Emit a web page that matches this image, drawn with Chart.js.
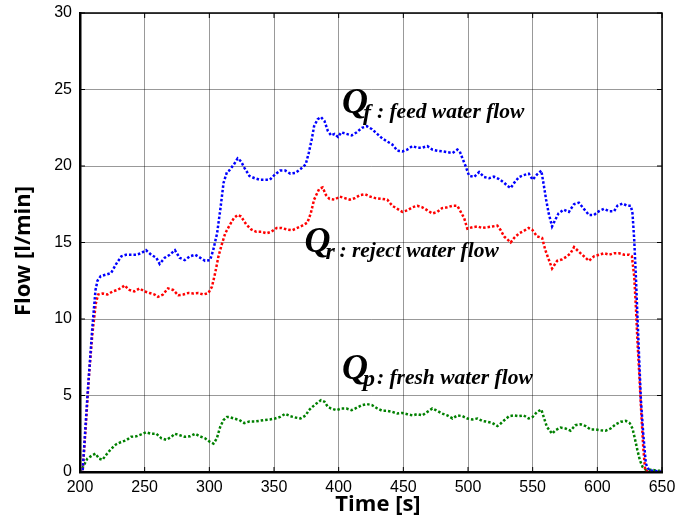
<!DOCTYPE html>
<html>
<head>
<meta charset="utf-8">
<title>Flow vs time</title>
<script src="https://cdn.jsdelivr.net/npm/chart.js@4.4.1/dist/chart.umd.min.js"></script>
<style>
    html, body { margin: 0; padding: 0; background: #fff; }
    .chart-box { width: 677px; height: 519px; position: relative; }
</style>
</head>
<body>
<div class="chart-box"><canvas id="flowChart"></canvas></div>
<script>
// Axis ticks
const xTicks = [200, 250, 300, 350, 400, 450, 500, 550, 600, 650];
const yTicks = [0, 5, 10, 15, 20, 25, 30];

// Q_f : feed water flow (blue)
const feedTime = [200, 202, 205.7, 209.6, 212, 213.5, 216, 220, 224, 228, 232, 235.6, 239.5, 243.4, 247.3, 251, 255, 259, 261.6, 265.5,
    269.4, 273.4, 277, 281, 285, 289, 293, 296.7, 300.6, 303, 306, 308.4, 311, 313.6, 315.3, 319, 321.9, 324.5, 327, 331,
    335, 339, 343, 346.8, 350.8, 354.7, 358.7, 362.6, 366.6, 370.5, 374.5, 377, 379.2, 381, 383.7, 386.3, 389, 391.6, 394.2, 396.8,
    399.5, 402, 406, 410, 414, 418, 421.8, 425.8, 429.8, 433.7, 437.6, 441.5, 445.4, 449.2, 453, 457, 460.8, 464.7, 468.6, 472.4,
    476.3, 480, 484, 488, 491.8, 493.6, 495.7, 498.2, 500.8, 504.7, 508.6, 512.4, 516.3, 520, 524, 528, 530.5, 533, 535.7, 539.5,
    543, 547, 550, 553.4, 556.7, 558.5, 560.4, 562.4, 565, 567.6, 570, 574, 578, 581.9, 585.7, 589.6, 593.5, 597.4, 601.3, 605.2,
    609, 613, 615.5, 619.4, 623.3, 625.9, 627.2, 628.5, 629.8, 631, 632.4, 633.7, 635.5, 637.5, 640, 645, 650];
const feedFlow = [0, 0, 4.9, 9.5, 11.9, 12.5, 12.8, 12.9, 13.0, 13.6, 14.1, 14.2, 14.2, 14.2, 14.3, 14.5, 14.2, 14.0, 13.6, 14.0,
    14.2, 14.5, 14.0, 13.85, 14.1, 14.2, 14.0, 13.8, 13.85, 14.5, 15.6, 17.1, 18.9, 19.6, 19.7, 20.1, 20.5, 20.3, 19.9, 19.35,
    19.2, 19.1, 19.1, 19.1, 19.45, 19.7, 19.7, 19.5, 19.55, 19.8, 20.1, 20.9, 21.75, 22.6, 23.05, 23.2, 22.95, 22.3, 22.0, 22.1,
    21.9, 22.2, 22.1, 22.0, 22.2, 22.5, 22.6, 22.4, 22.1, 21.8, 21.6, 21.4, 21.0, 20.95, 21.07, 21.3, 21.2, 21.2, 21.3, 21.07,
    21.0, 20.96, 20.9, 20.85, 21.07, 20.96, 20.5, 19.98, 19.37, 19.28, 19.6, 19.28, 19.2, 19.3, 19.15, 18.9, 18.7, 18.56, 18.9, 19.28,
    19.4, 19.5, 19.1, 19.45, 19.7, 18.8, 17.8, 16.9, 16.05, 16.5, 16.9, 17.15, 17.0, 17.5, 17.6, 17.2, 16.8, 16.8, 17.05, 17.2,
    17.05, 17.05, 17.4, 17.55, 17.4, 17.4, 16.9, 15.2, 12.8, 10.2, 7.3, 4.7, 2.5, 0.55, 0.1, 0.07, 0];

// Q_r : reject water flow (red)
const rejectTime = [200, 202, 204.4, 207, 209.6, 212.2, 214, 217.4, 221.3, 225.2, 229, 233, 234.3, 238.2, 242, 246, 250, 253.8, 257.7, 260.3,
    264.2, 268, 272, 276, 279.8, 283.7, 287.6, 291.5, 295.4, 299.3, 302, 304.5, 307, 309.7, 312.3, 315.3, 319, 321.9, 324.5, 328.4,
    332.4, 336.3, 340.3, 344.2, 348, 352, 356, 360, 364, 368, 371.8, 375.8, 378.4, 381, 384.9, 387.6, 390.2, 392.9, 396.8, 400.8,
    404.7, 408.6, 412.6, 416.5, 420.5, 424.4, 428.4, 433.7, 437.6, 441.5, 445.4, 449.2, 453, 457, 460.8, 464.7, 468.6, 472.4, 476.3, 480,
    484, 488, 491.8, 494.4, 497, 499.5, 503.4, 507.3, 511, 515, 519, 522.7, 525.3, 527.9, 530.5, 533, 535.7, 539.5, 543, 546.9,
    549.5, 553.4, 557.3, 559.8, 562.4, 565, 568.9, 572.8, 576.7, 579.3, 582, 585.7, 589.6, 593.5, 597.4, 601.3, 605.2, 609, 613, 616.8,
    620.7, 624.6, 626.7, 628.5, 629.8, 631, 632.4, 633.7, 635.5, 637, 640, 650];
const rejectFlow = [0, 0, 2.9, 6.4, 9.05, 11.0, 11.6, 11.67, 11.6, 11.8, 11.9, 12.1, 12.2, 11.9, 11.8, 12.0, 11.8, 11.7, 11.6, 11.45,
    11.6, 12.0, 11.9, 11.55, 11.6, 11.7, 11.67, 11.7, 11.6, 11.7, 12.1, 13.0, 14.07, 14.9, 15.6, 16.07, 16.6, 16.8, 16.7, 16.2,
    15.85, 15.7, 15.7, 15.6, 15.7, 15.95, 15.95, 15.85, 15.8, 15.95, 16.1, 16.3, 16.9, 17.8, 18.5, 18.6, 18.1, 17.85, 17.8, 18.0,
    17.9, 17.8, 17.9, 18.1, 18.15, 18.0, 17.9, 17.85, 17.8, 17.4, 17.2, 17.0, 17.1, 17.3, 17.4, 17.3, 17.1, 16.9, 17.0, 17.25,
    17.3, 17.4, 17.4, 17.0, 16.6, 15.9, 16.0, 16.05, 15.95, 16.0, 16.05, 16.1, 15.8, 15.4, 15.2, 15.0, 15.3, 15.6, 15.75, 15.95,
    15.85, 15.4, 15.3, 14.5, 13.9, 13.3, 13.8, 13.9, 14.1, 14.3, 14.7, 14.4, 14.1, 13.8, 14.1, 14.2, 14.3, 14.2, 14.3, 14.3,
    14.2, 14.2, 14.1, 12.8, 10.8, 8.6, 6.45, 4.3, 1.6, 0.1, 0, 0];

// Q_p : fresh water flow (green)
const freshTime = [200, 200.5, 203, 205.7, 209.6, 212, 214.8, 217.4, 220, 224, 227.8, 231.7, 235.6, 239.5, 243.4, 247.3, 251, 255, 259, 263,
    266.8, 270.7, 273.3, 277.2, 281, 285, 289, 292.8, 296.7, 300.6, 303.2, 305.8, 308.4, 311, 313.6, 315.3, 319, 323.2, 327, 331,
    335, 339, 343, 346.8, 350.8, 354.7, 358.7, 362.6, 366.6, 370.5, 374.5, 377, 379.7, 382.3, 386.3, 389, 391.6, 394.2, 398.2, 402,
    406, 410, 414, 418, 421.8, 425.8, 429.9, 433.7, 437.6, 441.5, 445.4, 449.2, 453, 457, 460.8, 464.7, 468.6, 472.4, 476.3, 480,
    484, 488, 491.8, 495.7, 499.5, 503.4, 507.3, 511.1, 515, 518.9, 522.8, 525.3, 528, 531.8, 535.7, 539.5, 543, 546.9, 550, 553.4,
    556.7, 558.5, 561, 565, 567.6, 571.5, 575.4, 579.3, 583, 587, 591, 594.8, 598.7, 602.6, 606.5, 610.3, 614.2, 618, 622, 625,
    627.2, 629.3, 631, 632.9, 635, 637.5, 641.4, 645.3, 649.2];
const freshFlow = [0, 0, 0.44, 0.87, 1.1, 1.2, 0.87, 0.8, 1.1, 1.5, 1.8, 1.96, 2.07, 2.3, 2.33, 2.46, 2.6, 2.5, 2.5, 2.2,
    2.1, 2.3, 2.5, 2.4, 2.3, 2.33, 2.5, 2.33, 2.2, 1.96, 1.85, 2.2, 2.95, 3.4, 3.6, 3.6, 3.5, 3.4, 3.2, 3.3,
    3.3, 3.35, 3.4, 3.43, 3.5, 3.6, 3.8, 3.65, 3.56, 3.5, 3.7, 4.04, 4.26, 4.44, 4.7, 4.6, 4.26, 4.15, 4.04, 4.15,
    4.15, 4.04, 4.2, 4.37, 4.44, 4.37, 4.15, 4.0, 4.0, 3.93, 3.82, 3.86, 3.78, 3.7, 3.78, 3.7, 3.93, 4.15, 4.0, 3.82,
    3.7, 3.5, 3.7, 3.65, 3.5, 3.43, 3.5, 3.34, 3.28, 3.2, 3.0, 3.17, 3.38, 3.65, 3.7, 3.65, 3.7, 3.5, 3.6, 3.93,
    4.08, 3.6, 2.95, 2.5, 2.73, 2.9, 2.84, 2.7, 3.06, 3.12, 3.0, 2.78, 2.78, 2.73, 2.7, 2.84, 3.12, 3.28, 3.34, 3.2,
    2.84, 2.08, 1.42, 0.77, 0.33, 0.15, 0.15, 0.1, 0.07];

// Curve labels (anchor of the big Q, in data units)
const curveLabels = [
    { sub: 'f', text: ': feed water flow', t: 402.5, v: 23.45 },
    { sub: 'r', text: ': reject water flow', t: 373.5, v: 14.38 },
    { sub: 'p', text: ': fresh water flow', t: 402.5, v: 6.1 }
];

function toPoints(times, values) {
    return times.map((t, i) => ({ x: t, y: values[i] }));
}

function dottedSeries(label, times, values, color) {
    return {
        label: label,
        data: toPoints(times, values),
        borderColor: color,
        backgroundColor: color,
        borderWidth: 2.5,
        borderDash: [2.5, 2],
        borderCapStyle: 'butt',
        pointRadius: 0,
        tension: 0,
        fill: false
    };
}

// Frame, inner tick marks, curve labels and axis titles
const decorPlugin = {
    id: 'decor',
    afterDraw(chart) {
        const { ctx, chartArea: a, scales: { x, y } } = chart;
        ctx.save();

        ctx.strokeStyle = '#000';
        ctx.lineWidth = 1.5;
        ctx.strokeRect(a.left, a.top, a.right - a.left, a.bottom - a.top);

        ctx.lineWidth = 1;
        ctx.beginPath();
        xTicks.forEach(t => {
            const px = x.getPixelForValue(t);
            ctx.moveTo(px, a.top); ctx.lineTo(px, a.top + 5);
            ctx.moveTo(px, a.bottom); ctx.lineTo(px, a.bottom - 5);
        });
        yTicks.forEach(v => {
            const py = y.getPixelForValue(v);
            ctx.moveTo(a.left, py); ctx.lineTo(a.left + 5, py);
            ctx.moveTo(a.right, py); ctx.lineTo(a.right - 5, py);
        });
        ctx.stroke();

        ctx.fillStyle = '#000';
        ctx.textAlign = 'left';
        ctx.textBaseline = 'alphabetic';
        curveLabels.forEach(l => {
            const px = x.getPixelForValue(l.t);
            const py = y.getPixelForValue(l.v);
            ctx.font = 'italic bold 36px "Liberation Serif"';
            ctx.fillText('Q', px, py);
            ctx.font = 'italic bold 24px "Liberation Serif"';
            ctx.fillText(l.sub, px + 21, py + 7);
            ctx.font = 'italic bold 21.5px "Liberation Serif"';
            ctx.fillText(l.text, px + 35, py + 5);
        });

        ctx.font = 'bold 22px "Open Sans"';
        ctx.textAlign = 'center';
        ctx.textBaseline = 'middle';
        ctx.fillText('Time [s]', 378, 505);

        ctx.translate(24, 251);
        ctx.rotate(-Math.PI / 2);
        ctx.fillText('Flow [l/min]', 0, 0);
        ctx.restore();
    }
};

document.addEventListener('DOMContentLoaded', function () {
    const ctx = document.getElementById('flowChart');

    new Chart(ctx, {
        type: 'line',
        data: {
            datasets: [
                dottedSeries('Q_f', feedTime, feedFlow, '#0000ff'),
                dottedSeries('Q_r', rejectTime, rejectFlow, '#ff0000'),
                dottedSeries('Q_p', freshTime, freshFlow, '#008000')
            ]
        },
        options: {
            responsive: true,
            maintainAspectRatio: false,
            animation: false,
            layout: {
                padding: { left: 0, right: 15, top: 13, bottom: 0 }
            },
            plugins: {
                legend: { display: false },
                tooltip: { enabled: false }
            },
            scales: {
                x: {
                    type: 'linear',
                    min: 200,
                    max: 650,
                    afterBuildTicks: function (scale) {
                        scale.ticks = xTicks.map(v => ({ value: v }));
                    },
                    afterFit: function (scale) {
                        scale.height = 47;
                        scale.paddingLeft = 0;
                        scale.paddingRight = 0;
                    },
                    ticks: {
                        color: '#000',
                        padding: 6,
                        maxRotation: 0,
                        font: { family: '"Liberation Sans", Arial', size: 16 }
                    },
                    grid: {
                        color: 'rgba(0,0,0,0.4)',
                        lineWidth: 1,
                        drawTicks: false
                    },
                    border: { display: true, color: '#000', width: 2.5 }
                },
                y: {
                    type: 'linear',
                    min: 0,
                    max: 30,
                    afterBuildTicks: function (scale) {
                        scale.ticks = yTicks.map(v => ({ value: v }));
                    },
                    afterFit: function (scale) {
                        scale.width = 80;
                        scale.paddingTop = 0;
                        scale.paddingBottom = 0;
                    },
                    ticks: {
                        color: '#000',
                        padding: 8,
                        font: { family: '"Liberation Sans", Arial', size: 16 }
                    },
                    grid: {
                        color: 'rgba(0,0,0,0.4)',
                        lineWidth: 1,
                        drawTicks: false
                    },
                    border: { display: true, color: '#000', width: 2.5 }
                }
            }
        },
        plugins: [decorPlugin]
    });
});
</script>
</body>
</html>
